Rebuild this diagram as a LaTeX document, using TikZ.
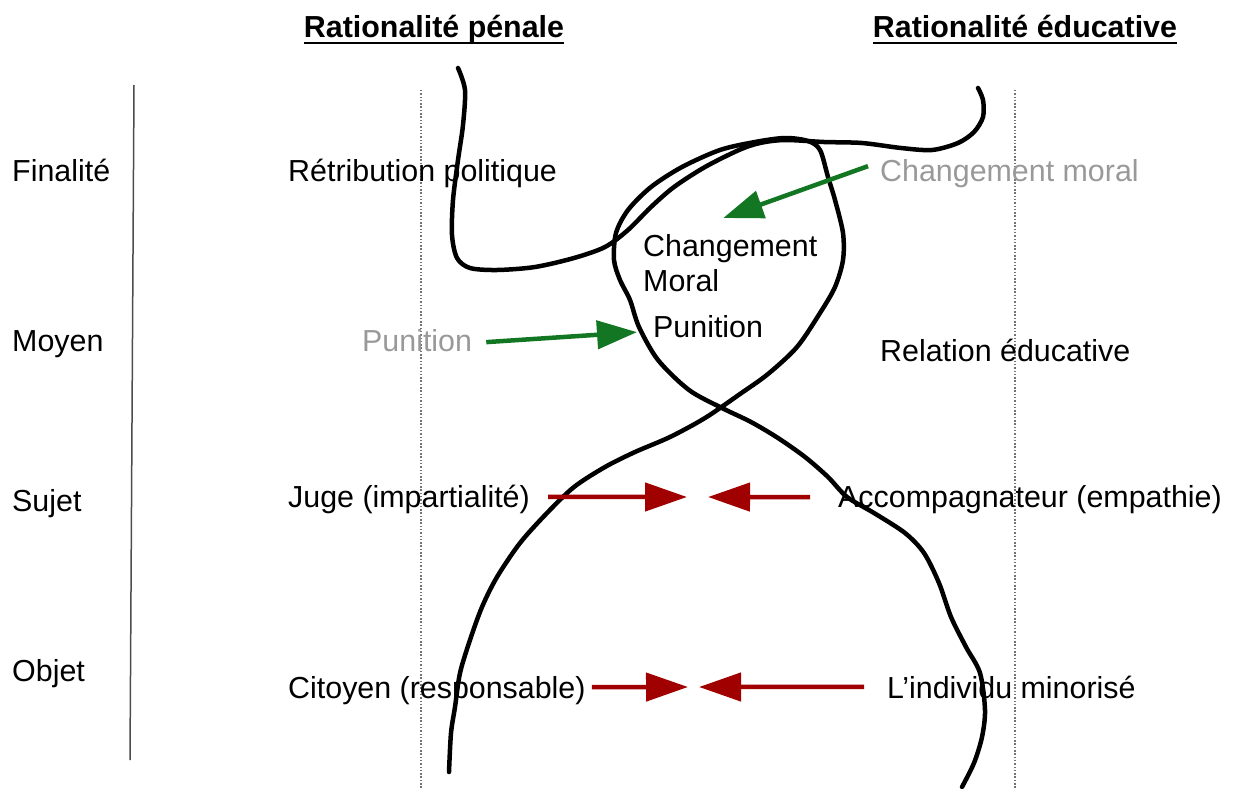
\documentclass[tikz,border=0pt]{standalone}
\usepackage{fontspec}
\setmainfont{Liberation Sans}
\usetikzlibrary{arrows.meta}
\definecolor{grisclair}{HTML}{999999}
\definecolor{rouge}{HTML}{A00000}
\definecolor{vert}{HTML}{127622}

\begin{document}
\begin{tikzpicture}[x=1pt, y=-1pt,
    every node/.style={inner sep=0pt, font=\fontsize{30.4}{35}\selectfont},
    etiq/.style={anchor=base west},
    grise/.style={anchor=base west, text=grisclair},
    titre/.style={anchor=base, font=\fontsize{30.4}{35}\selectfont\bfseries},
    trait/.style={line width=4.5pt, line cap=round, line join=round},
    pointille/.style={black!55, line width=1.5pt, dash pattern=on 1.5pt off 1.8pt},
    flrouge/.style={rouge, line width=4.5pt, -{Triangle[length=42pt, width=28pt]}},
    flvert/.style={vert, line width=4.5pt, -{Triangle[length=40pt, width=28pt]}}]
    \useasboundingbox (0, 0) rectangle (1233, 789);

    \node[titre] (penale) at (434, 38) {Rationalité pénale};
    \node[titre] (educ) at (1025, 38) {Rationalité éducative};
    \draw[line width=2pt] ([yshift=-5pt]penale.base west) -- ([yshift=-5pt]penale.base east);
    \draw[line width=2pt] ([yshift=-5pt]educ.base west) -- ([yshift=-5pt]educ.base east);

    \draw[line width=1.5pt, black!70] (134, 85) -- (130, 760);
    \draw[pointille] (421, 90) -- (421, 789);
    \draw[pointille] (1015, 90) -- (1015, 789);

    \node[etiq] (finalite) at (12, 181) {Finalité};
    \node[etiq] (moyen) at (12, 351) {Moyen};
    \node[etiq] (sujet) at (12, 511) {Sujet};
    \node[etiq] (objet) at (12, 681) {Objet};

    \node[etiq] (retrib) at (288, 181) {Rétribution politique};
    \node[grise] (pungris) at (362, 351) {Punition};
    \node[etiq] (juge) at (288, 507) {Juge (impartialité)};
    \node[etiq] (citoyen) at (288, 698) {Citoyen (responsable)};

    \node[grise] (chgris) at (880, 181) {Changement moral};
    \node[etiq] (relation) at (880, 361) {Relation éducative};
    \node[etiq] (accomp) at (838, 507) {Accompagnateur (empathie)};
    \node[etiq] (individu) at (887, 698) {L’individu minorisé};

    \node[anchor=north west, align=left] (chgt) at (643, 234) {Changement\\Moral};
    \node[etiq] (punition) at (653, 337) {Punition};

    \draw[trait] plot[smooth] coordinates {(458, 68) (465, 90) (463, 125) (458, 160) (453, 200)
        (452, 235) (457, 258) (470, 268) (497, 270) (535, 267) (574, 258) (605, 247) (628, 230)
        (651, 207) (674, 187) (705, 167) (739, 150) (760, 143) (785, 140) (824, 142) (862, 143)
        (901, 148) (932, 150) (958, 143) (974, 132) (983, 117) (983, 100) (978, 88)};
    \draw[trait] plot[smooth] coordinates {(449, 772) (451, 733) (455, 707) (460, 673) (470, 640)
        (482, 607) (497, 577) (520, 543) (547, 513) (574, 487) (605, 467) (635, 452) (670, 437)
        (705, 418) (740, 394) (768, 374) (797, 347) (820, 313) (835, 287) (843, 260) (843, 233)
        (835, 200) (828, 177) (820, 150) (808, 141) (785, 138) (755, 142) (720, 150) (682, 167)
        (651, 187) (628, 210) (616, 233) (614, 260) (620, 280) (630, 300) (639, 327) (658, 360)
        (689, 390) (722, 408) (751, 422) (778, 438) (805, 457) (828, 477) (847, 497) (874, 513)
        (905, 533) (924, 553) (939, 583) (951, 617) (966, 647) (980, 673) (985, 710) (982, 737)
        (974, 763) (962, 787)};

    \draw[flvert] ([shift={(-12pt,7pt)}]chgris.west) -- ([shift={(-7pt,16pt)}]chgt.north);
    \draw[flvert] ([shift={(14pt,-2pt)}]pungris.east) -- ([shift={(-16pt,-6pt)}]punition.west);

    \coordinate (sujetg) at (687, 497);
    \coordinate (sujetd) at (708, 497);
    \coordinate (objetg) at (688, 687);
    \coordinate (objetd) at (699, 687);
    \draw[flrouge] ([shift={(18pt,2pt)}]juge.east) -- (sujetg);
    \draw[flrouge] ([shift={(-28pt,2pt)}]accomp.west) -- (sujetd);
    \draw[flrouge] ([shift={(6pt,3pt)}]citoyen.east) -- (objetg);
    \draw[flrouge] ([xshift=-23pt]individu.west) -- (objetd);

\end{tikzpicture}
\end{document}
